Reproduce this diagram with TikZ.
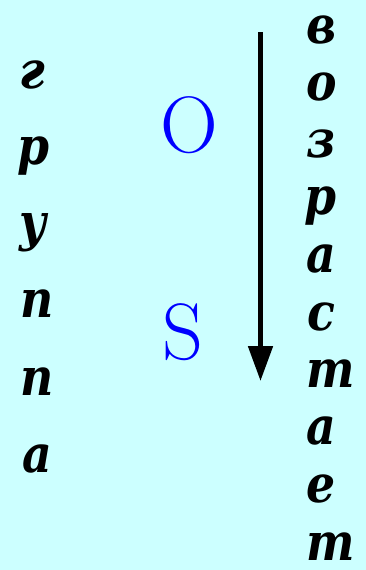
\documentclass[tikz,border=0pt]{standalone}
\usepackage{fontspec}
\newfontfamily\cyrserif[FakeStretch=0.88]{DejaVu Serif}
\usetikzlibrary{arrows.meta}
\definecolor{bgcyan}{HTML}{CCFFFF}
\definecolor{symblue}{HTML}{0000FF}
\tikzset{
  letter/.style={inner sep=0pt, anchor=base, font=\cyrserif\fontsize{52}{52}\selectfont\bfseries\itshape},
  rletter/.style={inner sep=0pt, anchor=base west, font=\cyrserif\fontsize{52}{52}\selectfont\bfseries\itshape},
  sym/.style={inner sep=0pt, anchor=base, text=symblue, font=\fontsize{80}{80}\selectfont},
  bigarrow/.style={line width=5pt, -{Triangle[length=35pt,width=24pt]}}
}
\begin{document}
\begin{tikzpicture}[x=1pt,y=-1pt]
\fill[bgcyan] (0,0) rectangle (366,570);
\useasboundingbox (0,0) rectangle (366,570);
% left column
\node[letter] (g1) at (32,88) {г};
\node[letter] (g2) at (33,164) {р};
\node[letter] (g3) at (33,240) {у};
\node[letter] (g4) at (37,317) {п};
\node[letter] (g5) at (37,395) {п};
\node[letter] (g6) at (37,472) {а};
% right column
\node[rletter] (v1) at (306,43) {в};
\node[rletter] (v2) at (306,100) {о};
\node[rletter] (v3) at (306,157) {з};
\node[rletter] (v4) at (304,214) {р};
\node[rletter] (v5) at (306,272) {а};
\node[rletter] (v6) at (307,330) {с};
\node[rletter] (v7) at (306,387) {т};
\node[rletter] (v8) at (306,444) {а};
\node[rletter] (v9) at (306,502) {е};
\node[rletter] (v10) at (306,560) {т};
% symbols
\node[sym] (O) at (189,152) {O};
\node[sym] (S) at (183,359) {S};
% arrow
\coordinate (atop) at (260.5,32);
\coordinate (abot) at (260.5,381);
\draw[bigarrow] (atop) -- (abot);
\end{tikzpicture}
\end{document}
